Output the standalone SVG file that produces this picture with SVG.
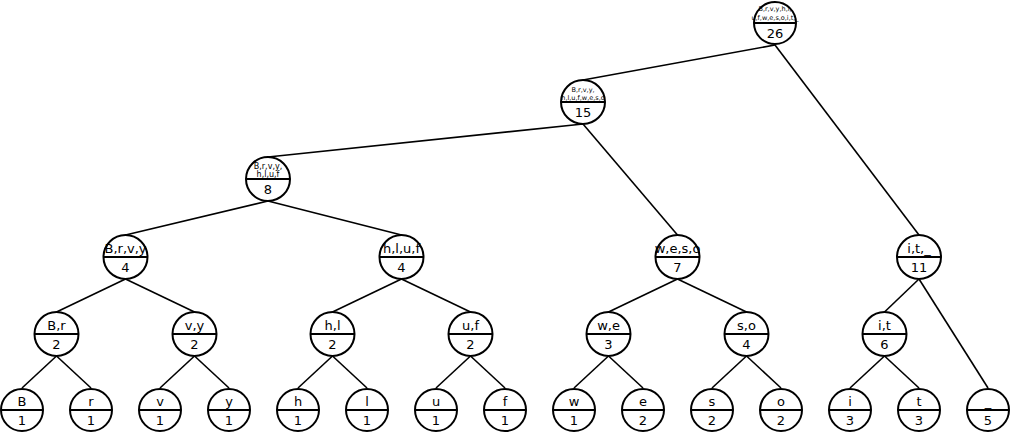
<svg xmlns="http://www.w3.org/2000/svg" width="1013" height="434" viewBox="0 0 1013 434">
<style>
.n circle{fill:#fff;stroke:#000;stroke-width:2}
.n line{stroke:#000;stroke-width:2}
.n text{font-family:"DejaVu Sans",Verdana,sans-serif;font-size:13px;text-anchor:middle;fill:#000}
.n text.s{font-size:8px}
.n text.xs{font-size:6.5px}
#edges line{stroke:#000;stroke-width:1.6}
</style>
<rect width="1013" height="434" fill="#fff"/>
<g id="edges">
<line x1="775" y1="45" x2="583" y2="80"/>
<line x1="775" y1="45" x2="919" y2="235"/>
<line x1="583" y1="124" x2="268" y2="157"/>
<line x1="583" y1="124" x2="677.5" y2="235"/>
<line x1="268" y1="201" x2="125.5" y2="235"/>
<line x1="268" y1="201" x2="401.5" y2="235"/>
<line x1="125.5" y1="279" x2="56.5" y2="312"/>
<line x1="125.5" y1="279" x2="194.5" y2="312"/>
<line x1="401.5" y1="279" x2="332.5" y2="312"/>
<line x1="401.5" y1="279" x2="470.5" y2="312"/>
<line x1="677.5" y1="279" x2="608.5" y2="312"/>
<line x1="677.5" y1="279" x2="746.5" y2="312"/>
<line x1="919" y1="279" x2="884.5" y2="312"/>
<line x1="919" y1="279" x2="988" y2="388"/>
<line x1="56.5" y1="356" x2="22" y2="388"/>
<line x1="56.5" y1="356" x2="91" y2="388"/>
<line x1="194.5" y1="356" x2="160" y2="388"/>
<line x1="194.5" y1="356" x2="229" y2="388"/>
<line x1="332.5" y1="356" x2="298" y2="388"/>
<line x1="332.5" y1="356" x2="367" y2="388"/>
<line x1="470.5" y1="356" x2="436" y2="388"/>
<line x1="470.5" y1="356" x2="505" y2="388"/>
<line x1="608.5" y1="356" x2="574" y2="388"/>
<line x1="608.5" y1="356" x2="643" y2="388"/>
<line x1="746.5" y1="356" x2="712" y2="388"/>
<line x1="746.5" y1="356" x2="781" y2="388"/>
<line x1="884.5" y1="356" x2="850" y2="388"/>
<line x1="884.5" y1="356" x2="919" y2="388"/>
</g>
<g id="n26" class="n" transform="translate(775,23)"><circle r="21"/><line x1="-21" x2="21"/><text class="xs" y="-12">B,r,v,y,h,l,</text><text class="xs" y="-3">u,f,w,e,s,o,i,t,_</text><text y="15">26</text></g>
<g id="n15" class="n" transform="translate(583,102)"><circle r="22"/><line x1="-22" x2="22"/><text class="xs" y="-10">B,r,v,y,</text><text class="xs" y="-2">h,l,u,f,w,e,s,o</text><text y="15">15</text></g>
<g id="n8" class="n" transform="translate(268,179)"><circle r="22"/><line x1="-22" x2="22"/><text class="s" y="-10">B,r,v,y,</text><text class="s" y="-2">h,l,u,f</text><text y="15">8</text></g>
<g id="nBrvy" class="n" transform="translate(125.5,257)"><circle r="22"/><line x1="-22" x2="22"/><text y="-4">B,r,v,y</text><text y="15">4</text></g>
<g id="nhluf" class="n" transform="translate(401.5,257)"><circle r="22"/><line x1="-22" x2="22"/><text y="-4">h,l,u,f</text><text y="15">4</text></g>
<g id="nweso" class="n" transform="translate(677.5,257)"><circle r="22"/><line x1="-22" x2="22"/><text y="-4">w,e,s,o</text><text y="15">7</text></g>
<g id="nit_" class="n" transform="translate(919,257)"><circle r="22"/><line x1="-22" x2="22"/><text y="-4">i,t,_</text><text y="15">11</text></g>
<g id="nBr" class="n" transform="translate(56.5,334)"><circle r="22"/><line x1="-22" x2="22"/><text y="-4">B,r</text><text y="15">2</text></g>
<g id="nvy" class="n" transform="translate(194.5,334)"><circle r="22"/><line x1="-22" x2="22"/><text y="-4">v,y</text><text y="15">2</text></g>
<g id="nhl" class="n" transform="translate(332.5,334)"><circle r="22"/><line x1="-22" x2="22"/><text y="-4">h,l</text><text y="15">2</text></g>
<g id="nuf" class="n" transform="translate(470.5,334)"><circle r="22"/><line x1="-22" x2="22"/><text y="-4">u,f</text><text y="15">2</text></g>
<g id="nwe" class="n" transform="translate(608.5,334)"><circle r="22"/><line x1="-22" x2="22"/><text y="-4">w,e</text><text y="15">3</text></g>
<g id="nso" class="n" transform="translate(746.5,334)"><circle r="22"/><line x1="-22" x2="22"/><text y="-4">s,o</text><text y="15">4</text></g>
<g id="nit" class="n" transform="translate(884.5,334)"><circle r="22"/><line x1="-22" x2="22"/><text y="-4">i,t</text><text y="15">6</text></g>
<g id="lB" class="n" transform="translate(22,410)"><circle r="21"/><line x1="-21" x2="21"/><text y="-4">B</text><text y="15">1</text></g>
<g id="lr" class="n" transform="translate(91,410)"><circle r="21"/><line x1="-21" x2="21"/><text y="-4">r</text><text y="15">1</text></g>
<g id="lv" class="n" transform="translate(160,410)"><circle r="21"/><line x1="-21" x2="21"/><text y="-4">v</text><text y="15">1</text></g>
<g id="ly" class="n" transform="translate(229,410)"><circle r="21"/><line x1="-21" x2="21"/><text y="-4">y</text><text y="15">1</text></g>
<g id="lh" class="n" transform="translate(298,410)"><circle r="21"/><line x1="-21" x2="21"/><text y="-4">h</text><text y="15">1</text></g>
<g id="ll" class="n" transform="translate(367,410)"><circle r="21"/><line x1="-21" x2="21"/><text y="-4">l</text><text y="15">1</text></g>
<g id="lu" class="n" transform="translate(436,410)"><circle r="21"/><line x1="-21" x2="21"/><text y="-4">u</text><text y="15">1</text></g>
<g id="lf" class="n" transform="translate(505,410)"><circle r="21"/><line x1="-21" x2="21"/><text y="-4">f</text><text y="15">1</text></g>
<g id="lw" class="n" transform="translate(574,410)"><circle r="21"/><line x1="-21" x2="21"/><text y="-4">w</text><text y="15">1</text></g>
<g id="le" class="n" transform="translate(643,410)"><circle r="21"/><line x1="-21" x2="21"/><text y="-4">e</text><text y="15">2</text></g>
<g id="ls" class="n" transform="translate(712,410)"><circle r="21"/><line x1="-21" x2="21"/><text y="-4">s</text><text y="15">2</text></g>
<g id="lo" class="n" transform="translate(781,410)"><circle r="21"/><line x1="-21" x2="21"/><text y="-4">o</text><text y="15">2</text></g>
<g id="li" class="n" transform="translate(850,410)"><circle r="21"/><line x1="-21" x2="21"/><text y="-4">i</text><text y="15">3</text></g>
<g id="lt" class="n" transform="translate(919,410)"><circle r="21"/><line x1="-21" x2="21"/><text y="-4">t</text><text y="15">3</text></g>
<g id="l_" class="n" transform="translate(988,410)"><circle r="21"/><line x1="-21" x2="21"/><text y="-4">_</text><text y="15">5</text></g>
</svg>
